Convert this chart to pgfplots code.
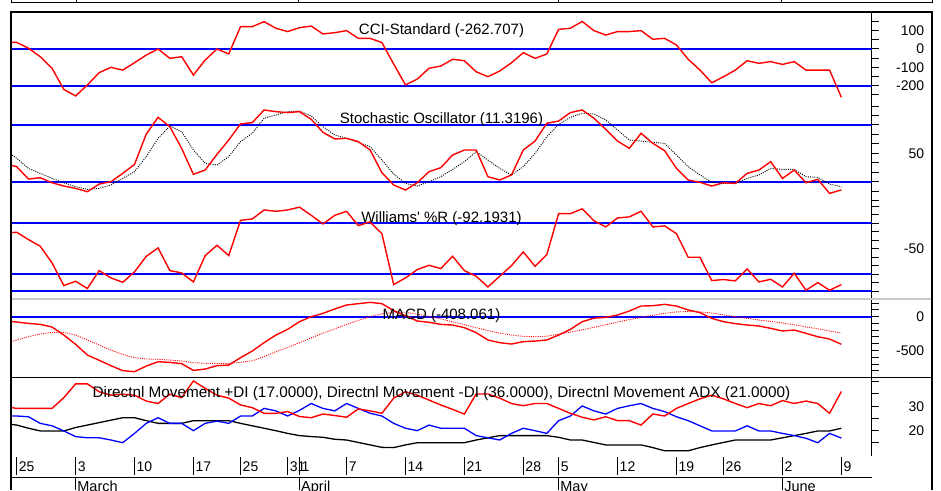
\documentclass[border=0pt]{standalone}
\usepackage{pgfplots}
\pgfplotsset{compat=1.18}
\usepackage{pgfplotstable}
\usepackage{fontspec}
\setmainfont{Liberation Sans}
\definecolor{cred}{RGB}{255,0,0}
\definecolor{cblue}{RGB}{0,0,255}
\definecolor{sepgray}{RGB}{200,200,200}

\pgfplotstableread{
i cci
-1 36
0 36
1 4
2 -42
3 -105
4 -220
5 -256
6 -196
7 -129
8 -100
9 -115
10 -75
11 -33
12 0
13 -51
14 -42
15 -142
16 -60
17 0
18 -27
19 122
20 122
21 149
22 113
23 95
24 116
25 125
26 82
27 89
28 100
29 58
30 58
31 35
32 -82
33 -196
34 -164
35 -105
36 -93
37 -56
38 -64
39 -124
40 -151
41 -120
42 -75
43 -20
44 -51
45 -27
46 107
47 113
48 150
49 100
50 76
51 95
52 95
53 100
54 53
55 58
56 22
57 -56
58 -115
59 -184
60 -151
61 -115
62 -64
63 -78
64 -69
65 -84
66 -69
67 -115
68 -115
69 -115
70 -263
}\ccidata

\pgfplotstableread{
i k d
-1 38.7 53.5
0 35.9 44.7
1 22.8 34.1
2 24.2 28.8
3 18.9 23.5
4 15.4 18.9
5 12.9 14.7
6 9.4 11.9
7 17.5 12.9
8 20.0 16.5
9 28.8 23.5
10 38.3 30.6
11 70.5 46.5
12 88.1 65.9
13 78.2 78.9
14 55.3 72.9
15 27.8 53.5
16 32.3 39.4
17 48.9 37.6
18 64.1 46.5
19 81.1 62.4
20 82.5 71.2
21 95.9 87.1
22 94.1 90.6
23 93.1 94.1
24 94.1 94.8
25 86.0 89.5
26 72.2 78.2
27 65.2 69.4
28 65.9 65.9
29 62.4 61.6
30 53.5 57.1
31 29.5 42.9
32 16.5 28.1
33 11.2 18.2
34 18.9 15.4
35 30.6 20.0
36 34.8 25.3
37 48.2 33.0
38 53.5 41.2
39 53.5 51.8
40 25.3 42.9
41 21.8 34.1
42 27.1 27.1
43 53.5 35.9
44 63.0 50.0
45 81.8 67.6
46 84.2 80.7
47 93.1 88.1
48 95.9 92.4
49 87.1 91.6
50 75.4 85.3
51 63.0 74.7
52 55.3 64.1
53 71.2 63.0
54 60.6 61.6
55 52.8 60.6
56 34.1 48.2
57 21.8 35.9
58 19.3 27.1
59 15.4 19.3
60 18.9 18.2
61 18.2 18.2
62 28.8 23.5
63 32.3 27.1
64 41.2 34.1
65 23.5 33.0
66 32.3 33.0
67 18.9 25.3
68 22.5 24.6
69 7.6 17.5
70 11.3 14.7
}\stochdata

\pgfplotstableread{
i wr
-1 -31.4
0 -30.6
1 -39.2
2 -47.0
3 -66.6
4 -93.3
5 -88.2
6 -96.8
7 -75.7
8 -84.3
9 -89.4
10 -77.2
11 -58.8
12 -49.0
13 -75.7
14 -78.4
15 -89.0
16 -58.0
17 -45.9
18 -58.0
19 -16.5
20 -14.9
21 -4.3
22 -5.9
23 -4.3
24 -1.0
25 -10.6
26 -20.8
27 -10.6
28 -5.9
29 -22.7
30 -18.4
31 -32.2
32 -92.1
33 -84.3
34 -74.5
35 -69.4
36 -73.3
37 -58.8
38 -75.7
39 -82.3
40 -94.9
41 -82.3
42 -69.8
43 -53.7
44 -70.6
45 -56.8
46 -8.6
47 -8.6
48 -3.0
49 -17.0
50 -24.3
51 -13.7
52 -12.5
53 -5.9
54 -24.3
55 -23.1
56 -32.2
57 -60.0
58 -60.0
59 -87.4
60 -86.2
61 -87.8
62 -73.7
63 -89.0
64 -85.9
65 -94.9
66 -78.8
67 -98.8
68 -89.8
69 -98.8
70 -92.2
}\wrdata

\pgfplotstableread{
i macd sig
-1 -64 -394
0 -79 -344
1 -99 -296
2 -114 -256
3 -153 -232
4 -271 -232
5 -408 -271
6 -566 -344
7 -644 -418
8 -723 -493
9 -797 -557
10 -812 -605
11 -729 -625
12 -665 -630
13 -675 -640
14 -694 -655
15 -793 -679
16 -773 -689
17 -723 -689
18 -714 -689
19 -605 -675
20 -507 -650
21 -384 -590
22 -271 -517
23 -187 -455
24 -74 -384
25 0 -314
26 49 -244
27 114 -179
28 172 -114
29 192 -54
30 211 0
31 192 43
32 89 65
33 15 65
34 -64 38
35 -83 5
36 -114 -32
37 -123 -76
38 -162 -119
39 -236 -162
40 -344 -206
41 -384 -244
42 -404 -271
43 -369 -290
44 -360 -296
45 -344 -287
46 -271 -260
47 -187 -227
48 -74 -195
49 -22 -157
50 -10 -119
51 25 -81
52 83 -43
53 157 -11
54 162 22
55 182 49
56 157 70
57 99 76
58 60 70
59 -25 54
60 -74 27
61 -103 0
62 -123 -22
63 -138 -49
64 -172 -70
65 -211 -92
66 -197 -119
67 -246 -152
68 -296 -179
69 -330 -211
70 -408 -244
}\macddata

\pgfplotstableread{
i pdi mdi adx
-1 26.0 29.9 22.9
0 26.0 29.1 22.3
1 25.7 29.1 21.0
2 23.0 29.1 19.9
3 22.0 29.1 19.9
4 19.9 33.5 19.9
5 17.6 39.1 21.3
6 17.1 39.1 22.3
7 17.1 35.9 23.3
8 16.2 34.5 24.3
9 15.1 34.9 25.3
10 18.9 34.5 25.3
11 23.0 32.1 24.1
12 25.3 31.1 23.0
13 23.0 34.9 23.0
14 23.0 33.5 23.0
15 20.0 40.3 24.1
16 23.0 37.3 24.1
17 23.9 34.5 24.1
18 23.0 33.3 24.1
19 26.0 30.5 23.0
20 26.0 29.4 22.0
21 29.1 27.1 21.0
22 28.1 27.1 20.0
23 26.0 27.8 18.9
24 28.3 25.8 18.0
25 31.1 25.3 17.6
26 29.1 26.8 17.3
27 28.1 26.2 16.5
28 31.1 25.5 16.2
29 29.1 28.9 15.2
30 27.1 28.1 14.2
31 26.0 27.1 13.2
32 23.0 33.3 13.1
33 21.0 35.9 14.2
34 20.0 34.5 15.1
35 22.3 32.5 15.1
36 21.0 30.5 15.1
37 21.0 28.7 15.1
38 21.0 26.8 15.1
39 18.0 35.0 16.2
40 17.1 35.0 17.1
41 16.2 33.3 18.0
42 18.9 31.1 18.0
43 21.0 30.2 18.0
44 20.0 31.1 18.0
45 18.9 31.1 18.0
46 24.1 29.1 17.3
47 26.0 27.1 16.2
48 30.1 25.5 16.2
49 28.1 24.4 15.2
50 26.8 25.7 14.2
51 29.1 24.1 14.2
52 30.2 24.1 14.2
53 31.1 22.3 14.2
54 29.1 26.8 13.1
55 27.8 26.0 11.8
56 25.7 29.1 11.8
57 24.1 31.1 11.8
58 22.0 33.0 13.1
59 19.9 34.5 14.2
60 19.9 33.0 15.2
61 19.9 31.1 16.2
62 22.0 29.4 16.2
63 19.9 31.1 16.2
64 19.9 30.2 16.2
65 18.9 32.3 17.1
66 18.0 31.1 18.0
67 16.9 32.1 18.9
68 15.1 31.1 19.9
69 18.9 27.1 19.9
70 17.0 36.0 21.0
}\dmidata

\pgfplotsset{
  panel/.style={
    scale only axis, width=860pt, xmin=-0.441, xmax=72.56,
    anchor=north west,
    axis x line=none, axis y line*=right,
    axis line style={-, black, line width=1pt},
    tick align=outside, major tick length=7pt, minor tick length=7pt,
    every tick/.style={black, line width=1pt},
    yticklabel style={anchor=east, inner sep=0pt, xshift=45.8pt, font=\fontsize{14}{14}\selectfont},
    clip=true,
  },
  refl/.style={color=cblue, line width=2pt},
  redl/.style={color=cred, line width=1.4pt},
}

\begin{document}
\begin{tikzpicture}
\useasboundingbox (0pt,0pt) rectangle (941pt,490pt);

% CCI
\begin{axis}[panel, at={(11.5pt,478pt)}, height=92pt, ymin=-299.7, ymax=201.6,
  ytick={-200,-100,0,100}, yticklabels={-200,-100,0,100},
  minor ytick={-300,-250,-150,-50,50,150}]
\addplot[refl] coordinates {(-1,0) (73,0)};
\addplot[refl] coordinates {(-1,-200) (73,-200)};
\addplot[redl] table[x=i,y=cci]{\ccidata};
\end{axis}

% Stochastic
\begin{axis}[panel, at={(11.5pt,386pt)}, height=96.6pt, ymin=0, ymax=102.2,
  ytick={50}, yticklabels={50},
  minor ytick={0,10,20,30,40,60,70,80,90,100}]
\addplot[refl] coordinates {(-1,80) (73,80)};
\addplot[refl] coordinates {(-1,20) (73,20)};
\addplot[color=black, line width=0.9pt, dash pattern=on 1pt off 1.2pt] table[x=i,y=d]{\stochdata};
\addplot[redl] table[x=i,y=k]{\stochdata};
\end{axis}

% Williams %R
\begin{axis}[panel, at={(11.5pt,289.4pt)}, height=98.4pt, ymin=-109.1, ymax=6.7,
  ytick={-50}, yticklabels={-50},
  minor ytick={0,-10,-20,-30,-40,-60,-70,-80,-90,-100}]
\addplot[refl] coordinates {(-1,-20) (73,-20)};
\addplot[refl] coordinates {(-1,-80) (73,-80)};
\addplot[refl] coordinates {(-1,-100) (73,-100)};
\addplot[redl] table[x=i,y=wr]{\wrdata};
\end{axis}

% MACD
\begin{axis}[panel, at={(11.5pt,191pt)}, height=78.3pt, ymin=-895, ymax=261,
  ytick={-500,0}, yticklabels={-500,0},
  minor ytick={200,100,-100,-200,-300,-400,-600,-700,-800}]
\addplot[refl] coordinates {(-1,0) (73,0)};
\addplot[color=cred, line width=0.9pt, dash pattern=on 1pt off 1.2pt] table[x=i,y=sig]{\macddata};
\addplot[redl] table[x=i,y=macd]{\macddata};
\end{axis}

% DMI
\begin{axis}[panel, at={(11.5pt,112.7pt)}, height=78.7pt, ymin=9.67, ymax=41.8,
  ytick={20,30}, yticklabels={20,30},
  minor ytick={15,25,35,40}]
\addplot[color=black, line width=1.3pt] table[x=i,y=adx]{\dmidata};
\addplot[color=cblue, line width=1.3pt] table[x=i,y=pdi]{\dmidata};
\addplot[redl] table[x=i,y=mdi]{\dmidata};
\end{axis}

% date row
\begin{axis}[scale only axis, width=860pt, height=18.3pt, anchor=north west,
  at={(11.5pt,33.3pt)}, xmin=-0.441, xmax=72.56, ymin=0, ymax=1,
  axis line style={draw=none}, ytick=\empty,
  xtick={0,5,10,15,19,23,24,28,33,38,43,46,51,56,60,65,70},
  xticklabels={25,3,10,17,25,31,1,7,14,21,28,5,12,19,26,2,9},
  major tick length=0pt, xmajorgrids, grid style={black, line width=1pt},
  xticklabel style={anchor=base west, inner sep=0pt, xshift=2pt, yshift=3.3pt, font=\fontsize{14}{14}\selectfont}]
\end{axis}

% month row
\begin{axis}[scale only axis, width=860pt, height=12.5pt, anchor=north west,
  at={(11.5pt,12.5pt)}, xmin=-0.441, xmax=72.56, ymin=0, ymax=1,
  axis line style={draw=none}, ytick=\empty,
  xtick={5,24,46,65}, xticklabels={March,April,May,June},
  major tick length=0pt, xmajorgrids, grid style={black, line width=1pt},
  xticklabel style={anchor=base west, inner sep=0pt, xshift=1.6pt, yshift=-1.6pt, font=\fontsize{14.5}{14.5}\selectfont}]
\end{axis}

% titles
\begin{scope}[every node/.style={anchor=base, font=\fontsize{15}{15}\selectfont, inner sep=0pt}]
\node at (441.5pt,455pt) {CCI-Standard (-262.707)};
\node at (441.5pt,366.7pt) {Stochastic Oscillator (11.3196)};
\node at (441.5pt,267.7pt) {Williams\textquotesingle\ \%R (-92.1931)};
\node at (441.5pt,170.7pt) {MACD (-408.061)};
\node[font=\fontsize{15.3}{15.3}\selectfont] at (441.5pt,93pt) {Directnl Movement +DI (17.0000), Directnl Movement -DI (36.0000), Directnl Movement ADX (21.0000)};
\end{scope}

% frame and separators
\draw[sepgray, line width=1.2pt] (11pt,191pt) -- (931.5pt,191pt);
\draw[black, line width=1.2pt] (11pt,112.7pt) -- (931.5pt,112.7pt);
\draw[black, line width=1.2pt] (11pt,12.7pt) -- (871.5pt,12.7pt);
\draw[black, line width=2pt] (11pt,0pt) -- (11pt,478pt) -- (931.5pt,478pt) -- (931.5pt,0pt);
\draw[black, line width=1.5pt] (11pt,487.3pt) -- (932.5pt,487.3pt);
\foreach \xx in {11.5,76.5,298.5,558.5,781.5,932.5}{
  \draw[black, line width=1pt] (\xx pt,487.3pt) -- (\xx pt,490pt);
}
\end{tikzpicture}
\end{document}
